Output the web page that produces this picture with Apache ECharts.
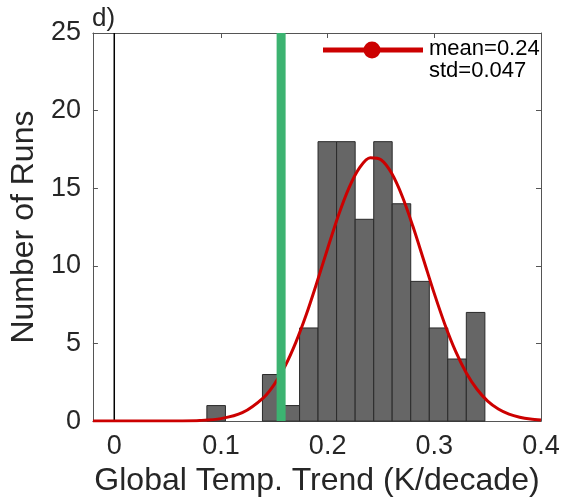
<!DOCTYPE html>
<html>
<head>
<meta charset="utf-8">
<script src="https://cdn.jsdelivr.net/npm/echarts@6/dist/echarts.min.js"></script>
<style>
html,body{margin:0;padding:0;background:#fff;}
#chart{width:563px;height:502px;}
</style>
</head>
<body>
<div id="chart"></div>
<script>
// ---- data ----
const binEdges = [0.0868, 0.1042, 0.1216, 0.1389, 0.1563, 0.1737, 0.1910, 0.2084, 0.2258, 0.2432, 0.2605, 0.2779, 0.2953, 0.3126, 0.3300, 0.3474];
const runCounts = [1, 0, 0, 3, 1, 6, 18, 18, 13, 18, 14, 9, 6, 4, 7];
const fitX = [-0.02, 0.00, 0.02, 0.04, 0.06, 0.08, 0.10, 0.12, 0.14, 0.15, 0.16, 0.17, 0.18, 0.19, 0.20, 0.21, 0.22, 0.23, 0.24, 0.25, 0.26, 0.27, 0.28, 0.29, 0.30, 0.31, 0.32, 0.33, 0.34, 0.35, 0.36, 0.37, 0.38, 0.39, 0.40];
const fitY = [0, 0, 0, 0, 0.01, 0.04, 0.16, 0.54, 1.52, 2.37, 3.53, 5.04, 6.86, 8.94, 11.12, 13.23, 15.03, 16.33, 16.96, 16.83, 15.96, 14.47, 12.53, 10.38, 8.21, 6.21, 4.49, 3.10, 2.05, 1.29, 0.78, 0.45, 0.25, 0.13, 0.07];
const observedTrend = 0.1564;
const xTicks = [0, 0.1, 0.2, 0.3, 0.4];
const yTicks = [0, 5, 10, 15, 20, 25];
const legendLines = ['mean=0.24', 'std=0.047'];
const xTitle = 'Global Temp. Trend (K/decade)';
const yTitle = 'Number of Runs';
const panelLabel = 'd)';

const FONT = "'Liberation Sans', Arial, Helvetica, sans-serif";
const TXT = '#262626';
const AX = '#555555';

const histData = runCounts.map((c, i) => [binEdges[i], binEdges[i + 1], c]);

function xAxisDef(pos, showLabels) {
  return {
    type: 'value', position: pos, min: -0.02, max: 0.4,
    axisLine: { show: true, onZero: false, lineStyle: { color: AX, width: 1 } },
    axisTick: { show: true, inside: true, length: 5, customValues: xTicks, lineStyle: { color: AX } },
    axisLabel: { show: showLabels, customValues: xTicks, margin: 12, color: TXT, fontSize: 27, fontFamily: FONT,
      formatter: v => String(v) },
    splitLine: { show: false },
    name: showLabels ? xTitle : '', nameLocation: 'middle', nameGap: 42,
    nameTextStyle: { color: TXT, fontSize: 32, fontFamily: FONT }
  };
}
function yAxisDef(pos, showLabels) {
  return {
    type: 'value', position: pos, min: 0, max: 25, interval: 5,
    axisLine: { show: true, onZero: false, lineStyle: { color: AX, width: 1 } },
    axisTick: { show: true, inside: true, length: 5, lineStyle: { color: AX } },
    axisLabel: { show: showLabels, margin: 12, color: TXT, fontSize: 27, fontFamily: FONT },
    splitLine: { show: false },
    name: showLabels ? yTitle : '', nameLocation: 'middle', nameGap: 50,
    nameTextStyle: { color: TXT, fontSize: 32, fontFamily: FONT }
  };
}

const chart = echarts.init(document.getElementById('chart'), null, { renderer: 'canvas' });
chart.setOption({
  animation: false,
  backgroundColor: '#ffffff',
  grid: { left: 92, right: 22, top: 33, bottom: 74, containLabel: false },
  xAxis: [xAxisDef('bottom', true), xAxisDef('top', false)],
  yAxis: [yAxisDef('left', true), yAxisDef('right', false)],
  series: [
    {
      type: 'custom', xAxisIndex: 0, yAxisIndex: 0, z: 2,
      encode: { x: [0, 1], y: 2 },
      data: histData,
      renderItem: function (params, api) {
        const c = api.value(2);
        if (!c) return null;
        const p0 = api.coord([api.value(0), 0]);
        const p1 = api.coord([api.value(1), c]);
        return {
          type: 'rect',
          shape: { x: p0[0], y: p1[1], width: p1[0] - p0[0], height: p0[1] - p1[1] },
          style: { fill: '#666666', stroke: '#2a2a2a', lineWidth: 1 }
        };
      }
    },
    {
      type: 'line', z: 3, xAxisIndex: 0, yAxisIndex: 0,
      data: [[0, 0], [0, 25]], showSymbol: false, silent: true,
      lineStyle: { color: '#000000', width: 1.5 }
    },
    {
      type: 'line', z: 4, xAxisIndex: 0, yAxisIndex: 0,
      data: fitX.map((x, i) => [x, fitY[i]]), showSymbol: false, smooth: 0.3,
      lineStyle: { color: '#cc0000', width: 3 }
    },
    {
      type: 'line', z: 5, xAxisIndex: 0, yAxisIndex: 0,
      data: [[observedTrend, 0], [observedTrend, 25]], showSymbol: false,
      lineStyle: { color: '#3cb371', width: 9, cap: 'butt' }
    }
  ],
  graphic: [
    { type: 'text', left: 92, top: 6, z: 10,
      style: { text: panelLabel, fill: TXT, fontSize: 26, fontFamily: FONT } },
    { type: 'line', z: 10, shape: { x1: 323, y1: 50, x2: 423, y2: 50 },
      style: { stroke: '#cc0000', lineWidth: 5 } },
    { type: 'circle', z: 11, shape: { cx: 372, cy: 50, r: 8.5 },
      style: { fill: '#cc0000' } },
    { type: 'text', z: 11, x: 429, y: 49,
      style: { text: legendLines[0], fill: '#000', fontSize: 22, fontFamily: FONT, verticalAlign: 'middle' } },
    { type: 'text', z: 11, x: 429, y: 71,
      style: { text: legendLines[1], fill: '#000', fontSize: 22, fontFamily: FONT, verticalAlign: 'middle' } }
  ]
});
</script>
</body>
</html>
